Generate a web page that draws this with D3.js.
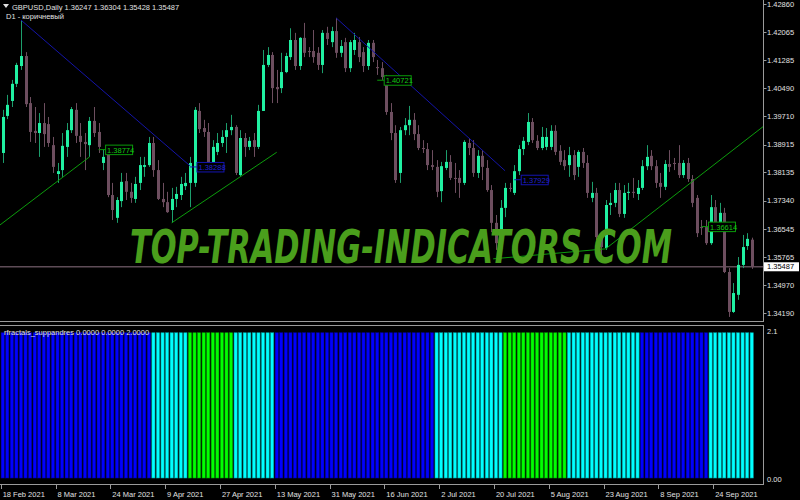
<!DOCTYPE html>
<html><head><meta charset="utf-8">
<script src="https://cdn.jsdelivr.net/npm/d3@7"></script>
<style>html,body{margin:0;padding:0;background:#000;}svg{display:block;}</style>
</head><body>
<svg id="c" width="800" height="500"></svg>
<script>
// ---------- DATA ----------
const symbolTitle = "GBPUSD,Daily";
const lastOHLC = ["1.36247", "1.36304", "1.35428", "1.35487"];
const subTitle = "D1 - коричневый";
const indicatorTitle = "rfractals_suppandres 0.0000 0.0000 2.0000";

const open = [1.3868,1.3972,1.4014,1.4062,1.4112,1.4140,1.4008,1.3930,1.3924,1.3952,
1.3949,1.3890,1.3809,1.3820,1.3885,1.3932,1.3989,1.3916,1.3899,1.3890,
1.3958,1.3927,1.3840,1.3876,1.3750,1.3686,1.3733,1.3789,1.3759,1.3739,
1.3784,1.3829,1.3834,1.3896,1.3820,1.3739,1.3730,1.3708,1.3739,1.3750,
1.3775,1.3784,1.3784,1.3986,1.3938,1.3927,1.3840,1.3871,1.3896,1.3913,
1.3932,1.3941,1.3806,1.3910,1.3885,1.3904,1.3885,1.3986,1.4115,1.4143,
1.4053,1.4050,1.4095,1.4137,1.4185,1.4112,1.4191,1.4154,1.4154,1.4149,
1.4115,1.4205,1.4179,1.4210,1.4149,1.4179,1.4106,1.4157,1.4179,1.4151,
1.4112,1.4177,1.4109,1.4106,1.4081,1.3983,1.3924,1.3812,1.3932,1.3946,
1.3961,1.3921,1.3882,1.3879,1.3834,1.3829,1.3761,1.3826,1.3843,1.3798,
1.3798,1.3784,1.3896,1.3882,1.3812,1.3860,1.3826,1.3764,1.3672,1.3624,
1.3714,1.3770,1.3756,1.3817,1.3879,1.3899,1.3955,1.3902,1.3882,1.3885,
1.3885,1.3930,1.3874,1.3848,1.3834,1.3862,1.3829,1.3871,1.3840,1.3742,
1.3756,1.3632,1.3601,1.3722,1.3728,1.3764,1.3697,1.3756,1.3759,1.3753,
1.3770,1.3831,1.3860,1.3831,1.3784,1.3773,1.3837,1.3840,1.3840,1.3806,
1.3840,1.3795,1.3742,1.3660,1.3660,1.3615,1.3716,1.3666,1.3700,1.3534,
1.3422,1.3470,1.3554,1.3607,1.36247];
const high = [1.3989,1.4031,1.4073,1.4121,1.4241,1.4151,1.4025,1.3997,1.3980,1.4008,
1.3969,1.3913,1.3840,1.3924,1.3952,1.3997,1.4008,1.3952,1.3924,1.3969,
1.3997,1.3952,1.3877,1.3885,1.3784,1.3744,1.3812,1.3812,1.3784,1.3801,
1.3857,1.3857,1.3913,1.3913,1.3848,1.3784,1.3759,1.3770,1.3773,1.3801,
1.3812,1.3857,1.3997,1.4008,1.3961,1.3952,1.3904,1.3924,1.3932,1.3952,
1.3975,1.3946,1.3932,1.3924,1.3913,1.3924,1.4003,1.4157,1.4165,1.4151,
1.4101,1.4149,1.4149,1.4218,1.4205,1.4193,1.4233,1.4165,1.4213,1.4165,
1.4213,1.4222,1.4222,1.4247,1.4185,1.4191,1.4185,1.4205,1.4193,1.4165,
1.4185,1.4185,1.4129,1.4123,1.4087,1.4008,1.3946,1.3941,1.3966,1.4000,
1.3980,1.3946,1.3904,1.3896,1.3876,1.3848,1.3843,1.3876,1.3862,1.3840,
1.3820,1.3904,1.3910,1.3904,1.3876,1.3876,1.3848,1.3778,1.3694,1.3736,
1.3784,1.3784,1.3834,1.3890,1.3913,1.3980,1.3966,1.3918,1.3941,1.3938,
1.3946,1.3946,1.3890,1.3876,1.3885,1.3876,1.3876,1.3882,1.3862,1.3787,
1.3770,1.3646,1.3736,1.3756,1.3784,1.3784,1.3778,1.3784,1.3798,1.3792,
1.3848,1.3890,1.3876,1.3848,1.3812,1.3848,1.3876,1.3854,1.3890,1.3848,
1.3854,1.3806,1.3750,1.3680,1.3680,1.3750,1.3736,1.3728,1.3714,1.3545,
1.3503,1.3576,1.3638,1.3643,1.36304];
const low = [1.3840,1.3963,1.3997,1.4053,1.4101,1.3997,1.3899,1.3896,1.3857,1.3885,
1.3885,1.3812,1.3784,1.3801,1.3857,1.3924,1.3896,1.3857,1.3820,1.3857,
1.3913,1.3868,1.3820,1.3744,1.3680,1.3672,1.3716,1.3736,1.3728,1.3728,
1.3764,1.3801,1.3829,1.3801,1.3736,1.3716,1.3700,1.3672,1.3716,1.3736,
1.3764,1.3716,1.3773,1.3924,1.3913,1.3829,1.3829,1.3862,1.3885,1.3868,
1.3918,1.3806,1.3801,1.3857,1.3876,1.3857,1.3879,1.3986,1.4109,1.4008,
1.4008,1.4036,1.4092,1.4129,1.4101,1.4101,1.4137,1.4137,1.4121,1.4101,
1.4092,1.4171,1.4165,1.4135,1.4137,1.4095,1.4095,1.4143,1.4123,1.4095,
1.4101,1.4123,1.4087,1.4073,1.3975,1.3904,1.3784,1.3784,1.3918,1.3918,
1.3904,1.3876,1.3868,1.3820,1.3820,1.3744,1.3730,1.3820,1.3792,1.3756,
1.3742,1.3778,1.3862,1.3801,1.3798,1.3792,1.3759,1.3646,1.3596,1.3610,
1.3688,1.3759,1.3750,1.3806,1.3862,1.3890,1.3896,1.3876,1.3876,1.3876,
1.3876,1.3862,1.3834,1.3820,1.3801,1.3792,1.3801,1.3826,1.3742,1.3730,
1.3624,1.3582,1.3596,1.3694,1.3716,1.3688,1.3686,1.3736,1.3742,1.3736,
1.3764,1.3820,1.3820,1.3770,1.3742,1.3764,1.3815,1.3820,1.3798,1.3798,
1.3787,1.3716,1.3632,1.3638,1.3610,1.3610,1.3646,1.3652,1.3531,1.3408,
1.3419,1.3456,1.3545,1.3596,1.35428];
const close = [1.3969,1.4003,1.4062,1.4115,1.4140,1.4005,1.3927,1.3924,1.3952,1.3921,
1.3896,1.3829,1.3817,1.3888,1.3932,1.3991,1.3916,1.3899,1.3893,1.3958,
1.3924,1.3885,1.3857,1.3750,1.3708,1.3736,1.3787,1.3759,1.3742,1.3781,
1.3834,1.3834,1.3896,1.3820,1.3739,1.3730,1.3702,1.3739,1.3753,1.3781,
1.3784,1.3840,1.3989,1.3935,1.3927,1.3840,1.3885,1.3896,1.3913,1.3932,
1.3941,1.3812,1.3910,1.3885,1.3902,1.3885,1.3986,1.4115,1.4143,1.4050,
1.4047,1.4095,1.4140,1.4185,1.4112,1.4191,1.4149,1.4151,1.4137,1.4115,
1.4205,1.4188,1.4210,1.4149,1.4168,1.4106,1.4179,1.4185,1.4137,1.4112,
1.4177,1.4137,1.4106,1.4081,1.3983,1.3924,1.3792,1.3932,1.3946,1.3961,
1.3921,1.3882,1.3879,1.3834,1.3829,1.3759,1.3831,1.3843,1.3798,1.3795,
1.3784,1.3899,1.3882,1.3812,1.3860,1.3829,1.3764,1.3672,1.3615,1.3714,
1.3770,1.3767,1.3817,1.3879,1.3902,1.3955,1.3904,1.3882,1.3913,1.3913,
1.3930,1.3871,1.3843,1.3831,1.3862,1.3806,1.3871,1.3840,1.3756,1.3756,
1.3632,1.3604,1.3722,1.3728,1.3764,1.3697,1.3756,1.3759,1.3756,1.3770,
1.3831,1.3857,1.3831,1.3784,1.3773,1.3837,1.3829,1.3837,1.3806,1.3840,
1.3795,1.3728,1.3643,1.3658,1.3615,1.3716,1.3666,1.3700,1.3534,1.3422,
1.3475,1.3554,1.3604,1.3627,1.35487];

// indicator: every bar has value 2.0, colour code B=blue, C=cyan, G=green
const indicatorValue = 2.0;
const signal = ("BBBBBBBBBBBBBBBBBBBBBBBBBBBBBBBBB" + "CCCCCCCC" + "GGGGGGGGGG" + "CCCCCCCCC" +
  "BBBBBBBBBBBBBBBBBBBBBBBBBBBBBBBBBBB" + "CCCCCCCCCCCCCCC" + "GGGGGGGGGGGGGG" +
  "CCCCCCCCCCCCCCCC" + "BBBBBBBBBBBBBBB" + "CCCCCCCCCC").split("");

const priceTicks = ["1.42860","1.42065","1.41285","1.40490","1.39710","1.38915","1.38135","1.37340","1.36545","1.35765","1.34970","1.34190"];
const dateTickBars = [0,12,24,36,48,60,72,84,96,108,120,132,144,156];
const dateTickLabels = ["18 Feb 2021","8 Mar 2021","24 Mar 2021","9 Apr 2021","27 Apr 2021","13 May 2021","31 May 2021","16 Jun 2021","2 Jul 2021","20 Jul 2021","5 Aug 2021","23 Aug 2021","8 Sep 2021","24 Sep 2021"];
const indTicks = ["2.1","0.00"];

// trend lines: [bar1, price1, bar2, price2]
const blueLines = [[4,1.4241,41,1.3832],[73,1.4247,110,1.3818]];
const greenLines = [[-0.6,1.3666,19,1.3857],[37,1.3672,60,1.3870],[107.4,1.3571,132,1.3599],[132,1.3599,166.5,1.3942]];
// fractal level labels: [bar, price, text, kind]
const levelLabels = [[21,1.38774,"1.38774","g"],[41,1.38288,"1.38288","b"],[82,1.40721,"1.40721","g"],[112,1.37929,"1.37929","b"],[153,1.36614,"1.36614","g"]];
const currentPrice = 1.35487;
const watermark = "TOP-TRADING-INDICATORS.COM";

// ---------- DRAW ----------
const svg = d3.select("#c");
svg.append("rect").attr("width",800).attr("height",500).attr("fill","#000");
const FONT = "'Liberation Sans', Arial, sans-serif";
const axisX = 763.5;

const x = d3.scaleLinear().domain([0, open.length-1]).range([2.7, 751.7]);
const y = d3.scaleLinear().domain([1.34190, 1.42860]).range([313, 4]);
const yi = d3.scaleLinear().domain([0, 2.1]).range([478, 325.5]);

const bars = open.map((o,i)=>({i,o,h:high[i],l:low[i],c:close[i]}));
const BULL = "#20f0a2", BULLW = "#1c9e6c", BEAR = "#6d4e5f";

const main = svg.append("g");
main.append("defs").append("clipPath").attr("id","mc").append("rect").attr("x",0).attr("y",0).attr("width",axisX).attr("height",321);
const gMain = main.append("g").attr("clip-path","url(#mc)");

// current price line
gMain.append("line").attr("x1",0).attr("x2",axisX).attr("y1",y(currentPrice)).attr("y2",y(currentPrice))
  .attr("stroke","#5e4c57").attr("stroke-width",1.5);

// wicks
gMain.selectAll("line.w").data(bars).join("line").attr("class","w")
  .attr("x1",d=>Math.round(x(d.i))+0.5).attr("x2",d=>Math.round(x(d.i))+0.5)
  .attr("y1",d=>y(d.h)).attr("y2",d=>y(d.l))
  .attr("stroke",d=>d.c>=d.o?BULLW:BEAR).attr("stroke-width",1);
// bodies
gMain.selectAll("rect.b").data(bars).join("rect").attr("class","b")
  .attr("x",d=>Math.round(x(d.i))-1)
  .attr("width",3)
  .attr("y",d=>y(Math.max(d.o,d.c)))
  .attr("height",d=>Math.max(1,Math.abs(y(d.o)-y(d.c))))
  .attr("fill",d=>d.c>=d.o?BULL:BEAR);

// trend lines
gMain.selectAll("line.bl").data(blueLines).join("line").attr("class","bl")
  .attr("x1",d=>x(d[0])).attr("y1",d=>y(d[1])).attr("x2",d=>x(d[2])).attr("y2",d=>y(d[3]))
  .attr("stroke","#1414a8").attr("stroke-width",1);
gMain.selectAll("line.gl").data(greenLines).join("line").attr("class","gl")
  .attr("x1",d=>x(d[0])).attr("y1",d=>y(d[1])).attr("x2",d=>x(d[2])).attr("y2",d=>y(d[3]))
  .attr("stroke","#0c9c0c").attr("stroke-width",1);

// level labels
const lab = gMain.selectAll("g.lab").data(levelLabels).join("g").attr("class","lab");
lab.append("line").attr("x1",d=>x(d[0])).attr("x2",d=>x(d[0])+7).attr("y1",d=>y(d[1])).attr("y2",d=>y(d[1]))
  .attr("stroke",d=>d[3]==="g"?"#0a9a0a":"#1414b0");
lab.append("rect").attr("x",d=>x(d[0])+7).attr("y",d=>y(d[1])-4.5).attr("width",27).attr("height",9.5)
  .attr("fill","#000").attr("stroke",d=>d[3]==="g"?"#0a9a0a":"#1414b0").attr("stroke-width",1);
lab.append("text").attr("x",d=>x(d[0])+8.5).attr("y",d=>y(d[1])+3)
  .attr("font-family",FONT).attr("font-size","7.5px")
  .attr("fill",d=>d[3]==="g"?"#12c812":"#2020d0").text(d=>d[2]);

// watermark (scaled horizontally to the reference width)
const wm = svg.append("text").attr("x",0).attr("y",0)
  .attr("font-family","'DejaVu Sans', sans-serif").attr("font-weight","bold").attr("font-style","italic")
  .attr("font-size","47px").attr("fill","#4a9e1c").text(watermark);
const wmW = wm.node().getComputedTextLength();
wm.attr("transform",`translate(130,263) scale(${542/wmW},1)`);

// header
svg.append("path").attr("d","M3,4 L9,4 L6,8 Z").attr("fill","#e0e0e0");
svg.append("text").attr("x",12).attr("y",10).attr("font-family",FONT).attr("font-size","7.5px").attr("fill","#e0e0e0")
  .text(symbolTitle + "  " + lastOHLC.join(" "));
svg.append("text").attr("x",6).attr("y",18.5).attr("font-family",FONT).attr("font-size","7.5px").attr("fill","#e0e0e0").text(subTitle);

// frames
const frame = "#9a9a9a";
svg.append("line").attr("x1",axisX).attr("x2",axisX).attr("y1",0).attr("y2",322).attr("stroke",frame);
svg.append("line").attr("x1",0).attr("x2",axisX).attr("y1",321.5).attr("y2",321.5).attr("stroke",frame);
svg.append("line").attr("x1",0).attr("x2",axisX).attr("y1",325.5).attr("y2",325.5).attr("stroke",frame);
svg.append("line").attr("x1",axisX).attr("x2",axisX).attr("y1",325).attr("y2",485).attr("stroke",frame);
svg.append("line").attr("x1",0).attr("x2",axisX).attr("y1",484.5).attr("y2",484.5).attr("stroke",frame);

// price axis
const pa = svg.append("g");
pa.selectAll("line").data(priceTicks).join("line").attr("x1",axisX).attr("x2",axisX+3)
  .attr("y1",d=>Math.round(y(+d))+0.5).attr("y2",d=>Math.round(y(+d))+0.5).attr("stroke",frame);
pa.selectAll("text").data(priceTicks).join("text").attr("x",767).attr("y",d=>y(+d)+2.7)
  .attr("font-family",FONT).attr("font-size","7.5px").attr("fill","#e0e0e0").text(d=>d);
// current price box
svg.append("rect").attr("x",axisX+0.5).attr("y",y(currentPrice)-4.5).attr("width",35).attr("height",9).attr("fill","#fff");
svg.append("text").attr("x",767).attr("y",y(currentPrice)+2.7).attr("font-family",FONT).attr("font-size","7.5px").attr("fill","#000").text(currentPrice.toFixed(5));

// indicator bars
const colMap = {B:"#0000ff", C:"#00ffff", G:"#00ff00"};
const edgeMap = {B:"#0000a0", C:"#00a0a0", G:"#00a000"};
svg.append("g").selectAll("rect").data(signal).join("rect")
  .attr("x",(d,i)=>x(i)-1.6).attr("width",3.2)
  .attr("y",yi(indicatorValue)).attr("height",yi(0)-yi(indicatorValue))
  .attr("fill",d=>colMap[d]).attr("stroke",d=>edgeMap[d]).attr("stroke-width",0.6);
svg.append("text").attr("x",4).attr("y",334.5).attr("font-family",FONT).attr("font-size","7.5px").attr("fill","#e0e0e0").text(indicatorTitle);
svg.append("text").attr("x",767).attr("y",334).attr("font-family",FONT).attr("font-size","7.5px").attr("fill","#e0e0e0").text(indTicks[0]);
svg.append("text").attr("x",767).attr("y",482).attr("font-family",FONT).attr("font-size","7.5px").attr("fill","#e0e0e0").text(indTicks[1]);

// date axis
const da = svg.append("g");
da.selectAll("line").data(dateTickBars).join("line").attr("x1",d=>Math.round(x(d))-1.5).attr("x2",d=>Math.round(x(d))-1.5)
  .attr("y1",485).attr("y2",489).attr("stroke",frame);
da.selectAll("text").data(dateTickBars).join("text").attr("x",d=>x(d)).attr("y",496.5)
  .attr("font-family",FONT).attr("font-size","7.5px").attr("fill","#e0e0e0").text((d,i)=>dateTickLabels[i]);
</script>
</body></html>
